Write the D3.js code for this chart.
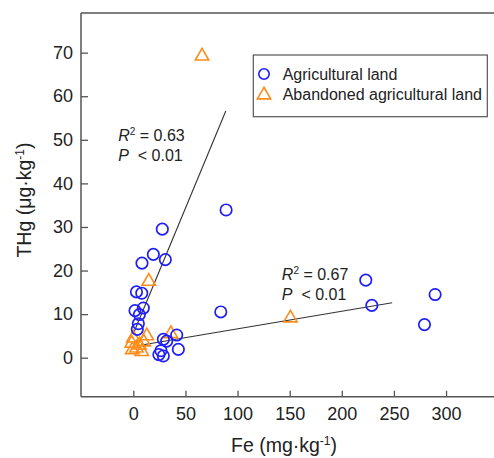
<!DOCTYPE html>
<html>
<head>
<meta charset="utf-8">
<script src="https://cdn.jsdelivr.net/npm/d3@7"></script>
<style>
  html, body { margin: 0; padding: 0; background: #fff; }
  svg { display: block; font-family: "Liberation Sans", Arial, sans-serif; }
</style>
</head>
<body>
<svg id="chart" width="494" height="458"></svg>
<script>
// ---- Data ----
const feAgri  = [89, 27.8, 19.2, 30.7, 8.3, 3, 8.1, 9.6, 1.6, 5.8, 4.8, 3.8, 83.9,
                 28.8, 32, 41.6, 43.2, 24.5, 28.8, 26.5, 223, 228.8, 289.5, 279.3];
const thgAgri = [33.9, 29.5, 23.7, 22.5, 21.7, 15.1, 14.8, 11.4, 10.8, 9.9, 7.8, 6.5, 10.5,
                 4.2, 3.8, 5.2, 1.9, 0.7, 0.4, 1.6, 17.8, 12, 14.5, 7.6];

const feAband  = [65.9, 14.8, 150.7, 36, 12.9, 0, -1.5, 5.8, -1, 8.1, 3, 10];
const thgAband = [69.2, 17.5, 9.1, 5.5, 5.0, 4.5, 3.3, 2.9, 1.8, 1.4, 2.2, 3.6];

// regression line endpoints
const fit1Fe  = [0.5, 88.7];
const fit1Thg = [5.8, 56.6];
const fit2Fe  = [8.1, 248.3];
const fit2Thg = [2.9, 12.6];

const xTicks = [0, 50, 100, 150, 200, 250, 300];
const yTicks = [0, 10, 20, 30, 40, 50, 60, 70];

const seriesNames = ["Agricultural land", "Abandoned agricultural land"];
const fitLabels = [
  { r2: "0.63", p: "0.01", fe: -14.5, thg: 49.8 },
  { r2: "0.67", p: "0.01", fe: 142.5, thg: 17.8 }
];

// ---- Layout ----
const svg = d3.select("#chart");
const mLeft = 81, mRight = 494, mTop = 13, mBottom = 396.7;
const x = d3.scaleLinear().domain([-50.2, 346]).range([mLeft, mRight]);
const y = d3.scaleLinear().domain([-8.95, 79.1]).range([mBottom, mTop]);

const axisColor = "#555";
const blue = "#1f1ff5";
const orange = "#ff8c1a";

// Top border
svg.append("line")
  .attr("x1", mLeft).attr("x2", mRight).attr("y1", mTop).attr("y2", mTop)
  .attr("stroke", axisColor).attr("stroke-width", 1.5);

// Axes
const gx = svg.append("g").attr("transform", `translate(0,${mBottom})`)
  .call(d3.axisBottom(x).tickValues(xTicks).tickSizeInner(-6).tickSizeOuter(0).tickPadding(11));
const gy = svg.append("g").attr("transform", `translate(${mLeft},0)`)
  .call(d3.axisLeft(y).tickValues(yTicks).tickSizeInner(-7).tickSizeOuter(0).tickPadding(8));

[gx, gy].forEach(g => {
  g.select(".domain").attr("stroke", axisColor).attr("stroke-width", 1.5);
  g.selectAll(".tick line").attr("stroke", axisColor).attr("stroke-width", 1.3);
  g.selectAll(".tick text").attr("fill", "#222").style("font-size", "18px")
    .style("font-family", '"Liberation Sans", Arial, sans-serif');
});
gx.select(".domain").attr("d", `M${mLeft},0H${mRight}`);
gy.select(".domain").attr("d", `M0,${mTop}V${mBottom}`);

// Regression lines
const line = d3.line().x(d => x(d[0])).y(d => y(d[1]));
[[fit1Fe, fit1Thg], [fit2Fe, fit2Thg]].forEach(([fx, fy]) => {
  svg.append("path")
    .attr("d", line(fx.map((v, i) => [v, fy[i]])))
    .attr("fill", "none").attr("stroke", "#333").attr("stroke-width", 1.1);
});

// Points: triangles first, circles on top
const tri = d3.symbol().type(d3.symbolTriangle).size(78);
svg.append("g").selectAll("path")
  .data(feAband.map((v, i) => [v, thgAband[i]]))
  .join("path")
  .attr("d", tri)
  .attr("transform", d => `translate(${x(d[0])},${y(d[1])})`)
  .attr("fill", "none").attr("stroke", orange).attr("stroke-width", 1.6);

svg.append("g").selectAll("circle")
  .data(feAgri.map((v, i) => [v, thgAgri[i]]))
  .join("circle")
  .attr("cx", d => x(d[0])).attr("cy", d => y(d[1]))
  .attr("r", 5.7)
  .attr("fill", "none").attr("stroke", blue).attr("stroke-width", 1.7);

// Fit annotations
fitLabels.forEach(f => {
  const tx = x(f.fe), ty = y(f.thg);
  const t1 = svg.append("text").attr("x", tx).attr("y", ty)
    .attr("fill", "#222").style("font-size", "16px");
  t1.append("tspan").style("font-style", "italic").text("R");
  t1.append("tspan").attr("dy", -6).style("font-size", "10px").text("2");
  t1.append("tspan").attr("dy", 6).text(" = " + f.r2);
  const t2 = svg.append("text").attr("x", tx).attr("y", ty + 20)
    .attr("fill", "#222").style("font-size", "16px");
  t2.append("tspan").style("font-style", "italic").text("P");
  t2.append("tspan").text("\u00a0 < " + f.p);
});

// Legend
const lg = svg.append("g");
lg.append("rect").attr("x", 253.3).attr("y", 55).attr("width", 234).attr("height", 61.7)
  .attr("fill", "#fff").attr("stroke", axisColor).attr("stroke-width", 1.2);
lg.append("circle").attr("cx", 264).attr("cy", 74).attr("r", 5.2)
  .attr("fill", "none").attr("stroke", blue).attr("stroke-width", 1.6);
lg.append("path").attr("d", tri).attr("transform", "translate(264,95)")
  .attr("fill", "none").attr("stroke", orange).attr("stroke-width", 1.6);
seriesNames.forEach((n, i) => {
  lg.append("text").attr("x", 282.7).attr("y", 80 + i * 20)
    .attr("fill", "#222").style("font-size", "16px").text(n);
});

// Axis titles
const xt = svg.append("text").attr("x", 284).attr("y", 452).attr("text-anchor", "middle")
  .attr("fill", "#222").style("font-size", "19.5px");
xt.append("tspan").text("Fe (mg\u00b7kg");
xt.append("tspan").attr("dy", -7.5).style("font-size", "12px").text("-1");
xt.append("tspan").attr("dy", 7.5).text(")");

const yt = svg.append("text").attr("transform", "translate(31,200) rotate(-90)")
  .attr("text-anchor", "middle").attr("fill", "#222").style("font-size", "19.5px");
yt.append("tspan").text("THg (\u03bcg\u00b7kg");
yt.append("tspan").attr("dy", -7.5).style("font-size", "12px").text("-1");
yt.append("tspan").attr("dy", 7.5).text(")");
</script>
</body>
</html>
